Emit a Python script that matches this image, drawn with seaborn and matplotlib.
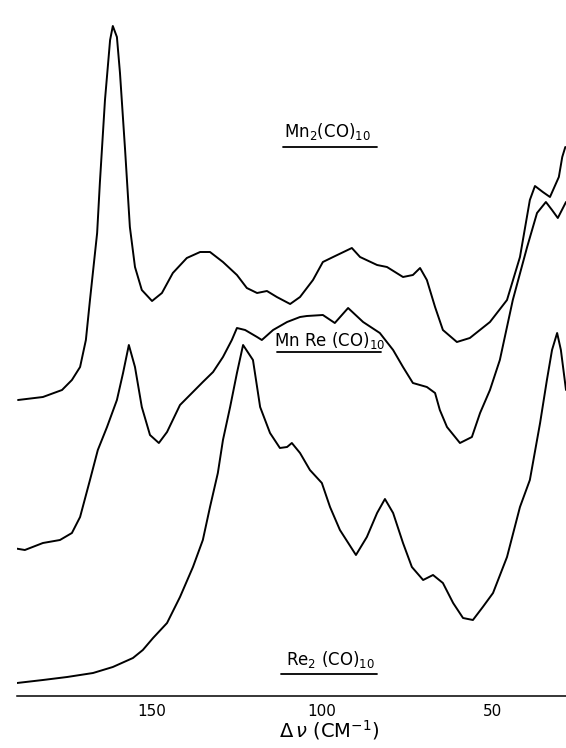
import matplotlib
matplotlib.use("Agg")
import matplotlib.pyplot as plt
import seaborn as sns
import pandas as pd

# Raman spectra: x = shift (cm-1), y = signal height (arb. units)
mn2_x = [189.2, 181.9, 176.3, 173.4, 171.0, 169.3, 168.1, 166.0, 165.2, 163.7,
         162.2, 161.4, 160.2, 159.3, 157.8, 156.4, 154.9, 152.9, 149.9, 147.0,
         143.8, 139.7, 135.8, 132.9, 129.1, 125.0, 122.1, 119.1, 116.2, 113.3,
         109.4, 106.5, 102.7, 99.8, 96.8, 91.3, 88.9, 83.9, 81.0, 76.3,
         73.4, 71.3, 69.3, 66.9, 64.6, 60.5, 56.7, 50.8, 45.8, 42.0,
         39.1, 37.6, 35.3, 33.2, 30.6, 29.6, 28.7]
mn2_y = [296, 299, 306, 316, 329, 356, 396, 463, 513, 596,
         656, 670, 659, 623, 546, 469, 429, 406, 395, 403,
         423, 438, 444, 444, 434, 421, 408, 403, 405, 399,
         392, 399, 416, 434, 439, 448, 439, 431, 429, 419,
         421, 428, 416, 389, 366, 354, 358, 374, 396, 439,
         496, 510, 504, 499, 519, 539, 549]

mnre_x = [190.7, 187.2, 181.9, 176.9, 173.4, 171.0, 168.1, 165.8, 163.1, 160.2,
          158.4, 156.7, 154.9, 152.9, 150.5, 147.9, 145.5, 141.7, 138.2, 135.0,
          132.0, 129.1, 126.5, 125.0, 122.6, 119.1, 117.7, 114.4, 110.3, 106.5,
          104.5, 99.8, 96.3, 92.4, 88.0, 83.1, 79.2, 76.3, 73.4, 69.3,
          66.9, 65.5, 63.4, 59.6, 56.1, 53.7, 50.8, 47.9, 44.1, 39.9,
          37.0, 34.4, 32.6, 30.9, 28.5]
mnre_y = [148, 146, 153, 156, 163, 179, 216, 246, 269, 296,
          323, 351, 329, 289, 261, 253, 264, 291, 303, 314,
          324, 339, 356, 368, 366, 359, 356, 366, 374, 379,
          380, 381, 373, 388, 374, 363, 346, 329, 313, 309,
          303, 286, 269, 253, 259, 283, 306, 336, 396, 449,
          483, 494, 486, 478, 494]

re2_x = [189.5, 181.9, 174.8, 167.2, 161.4, 155.5, 152.6, 149.6, 145.5, 141.7,
         137.9, 135.0, 132.9, 130.6, 129.1, 127.0, 125.0, 123.2, 120.3, 118.2,
         115.3, 112.4, 110.3, 108.9, 106.5, 103.6, 100.1, 97.7, 94.8, 90.1,
         86.9, 83.9, 81.6, 79.2, 76.3, 73.7, 70.4, 67.5, 64.6, 61.6,
         58.7, 55.8, 52.9, 49.9, 45.8, 42.0, 39.1, 36.1, 34.1, 32.6,
         31.1, 30.0, 28.5]
re2_y = [13, 16, 19, 23, 29, 38, 46, 58, 73, 99,
         129, 156, 189, 223, 256, 289, 323, 351, 336, 289,
         263, 248, 249, 253, 243, 226, 213, 189, 166, 141,
         159, 183, 197, 183, 153, 129, 116, 121, 113, 93,
         78, 76, 89, 103, 139, 189, 216, 273, 316, 346,
         363, 346, 306]

compounds = ["Mn2(CO)10", "MnRe(CO)10", "Re2(CO)10"]
label_texts = [r"Mn$_2$(CO)$_{10}$", r"Mn Re (CO)$_{10}$", r"Re$_2$ (CO)$_{10}$"]
xticks = [150, 100, 50]

df = pd.concat([
    pd.DataFrame({"shift": mn2_x, "signal": mn2_y, "compound": compounds[0]}),
    pd.DataFrame({"shift": mnre_x, "signal": mnre_y, "compound": compounds[1]}),
    pd.DataFrame({"shift": re2_x, "signal": re2_y, "compound": compounds[2]}),
])

sns.set_style("white")
plt.rcParams["font.family"] = ["DejaVu Sans"]
plt.rcParams["mathtext.fontset"] = "dejavusans"
plt.rcParams["text.color"] = "black"
plt.rcParams["axes.labelcolor"] = "black"
plt.rcParams["xtick.color"] = "black"

fig = plt.figure(figsize=(5.66, 7.48), dpi=100)
ax = fig.add_axes([17 / 566, 52 / 748, 549 / 566, 696 / 748])

sns.lineplot(data=df, x="shift", y="signal", hue="compound", units="compound",
             estimator=None, sort=False, palette=["black"] * 3, linewidth=1.4,
             legend=False, ax=ax)

# labels with an underline under each trace
label_x = [98.5, 97.9, 97.7]
label_y = [559, 350, 31]
line_y = [549, 344, 22]
line_span = [(111.5, 83.9), (113.3, 82.8), (112.1, 83.9)]
for txt, lx, ly, uy, (x0, x1) in zip(label_texts, label_x, label_y, line_y, line_span):
    ax.text(lx, ly, txt, ha="center", va="baseline", fontsize=12, color="black")
    ax.plot([x0, x1], [uy, uy], color="black", lw=1.3)

ax.set_xlim(189.5, 28.5)
ax.set_ylim(0, 696)
ax.set_yticks([])
ax.set_xticks(xticks)
ax.set_xticklabels([str(t) for t in xticks], fontsize=11)
ax.tick_params(axis="x", direction="in", length=7, width=1, pad=6, color="black")
for side in ["top", "left", "right"]:
    ax.spines[side].set_visible(False)
ax.spines["bottom"].set_linewidth(1.1)
ax.spines["bottom"].set_color("black")
ax.set_ylabel("")
ax.set_xlabel(r"$\Delta\,\nu$ (CM$^{-1}$)", fontsize=14)
ax.xaxis.set_label_coords(0.568, -0.032)
ax.patch.set_alpha(0)

fig.savefig("out.png", dpi=100)
